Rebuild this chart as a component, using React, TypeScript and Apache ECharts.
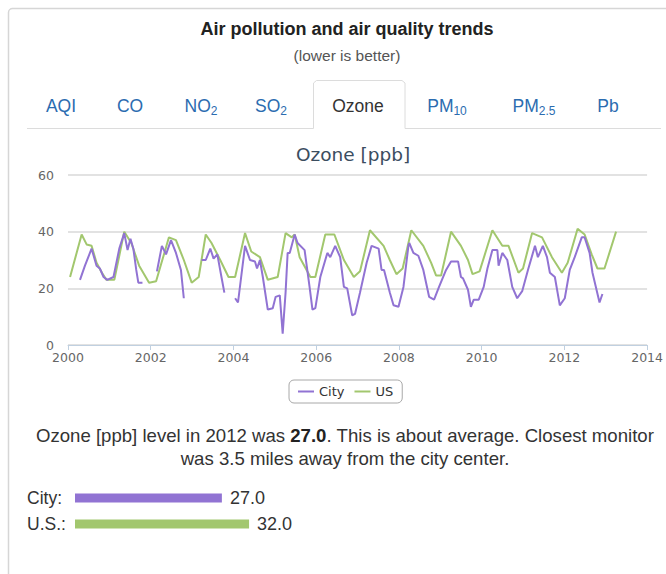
import React, { useEffect, useRef } from "react";
import * as echarts from "echarts";

// ---- Data ----
const cityYears = [
  2000.29, 2000.41, 2000.57, 2000.69, 2000.77, 2000.86, 2000.95, 2001.1, 2001.24, 2001.36, 2001.44, 2001.51, 2001.58, 2001.65, 2001.7, 2001.8, 2001.85,
  2002.15, 2002.27, 2002.37, 2002.49, 2002.61, 2002.73, 2002.8, 2002.85,
  2003.23, 2003.33, 2003.44, 2003.52, 2003.61, 2003.71, 2003.78, 2003.85,
  2004.04, 2004.11, 2004.28, 2004.4, 2004.52, 2004.57, 2004.64, 2004.71, 2004.83, 2004.95, 2005.02, 2005.12, 2005.19, 2005.26, 2005.31, 2005.36,
  2005.48, 2005.55, 2005.72, 2005.84, 2005.91, 2005.98, 2006.1, 2006.27, 2006.34, 2006.46, 2006.58, 2006.67, 2006.75, 2006.87, 2006.94,
  2007.06, 2007.22, 2007.34, 2007.51, 2007.58, 2007.64, 2007.78, 2007.87, 2007.99, 2008.11, 2008.23, 2008.25, 2008.35, 2008.47, 2008.59,
  2008.73, 2008.85, 2008.97, 2009.14, 2009.26, 2009.43, 2009.5, 2009.55, 2009.67, 2009.74, 2009.81, 2009.93, 2010.05, 2010.14, 2010.26,
  2010.38, 2010.41, 2010.5, 2010.62, 2010.74, 2010.86, 2010.98, 2011.12, 2011.29, 2011.36, 2011.48, 2011.58, 2011.65, 2011.77, 2011.89,
  2012.01, 2012.13, 2012.25, 2012.42, 2012.49, 2012.61, 2012.68, 2012.85, 2012.92,
];
const cityValues = [
  23, 28, 34, 28, 27, 24, 23, 24, 34, 39.5, 33.5, 37.5, 34, 26.5, 22, 22, null,
  26, 35, 32, 37, 32.5, 26.5, 16.5, null,
  30, 30, 34, 30.5, 32, 24, 18.5, null,
  16.5, 15, 35, 30, 29.5, 27, 30, 24, 12.5, 13, 17, 17.5, 4, 18.5, 32.5, 32.5,
  39, 36, 33.5, 20.5, 12.5, 13, 24, 32.5, 31, 35, 31, 20.5, 20, 10.5, 11,
  18.5, 29, 35, 34, 26.5, 26.5, 18.5, 14, 13.5, 20.5, 35, 36, 32.5, 31.5, 26.5,
  17, 16, 20.5, 26.5, 29.5, 29.5, 24, 23.5, 19.5, 13.5, 16, 16, 20.5, 27, 33.5,
  33.5, 28, 32.5, 30, 20.5, 16.5, 19, 26.5, 35, 31, 35, 31, 25.5, 24, 14,
  16.5, 26.5, 31, 38, 38, 32.5, 25.5, 15, 18,
];
const usYears = [
  2000.05, 2000.33, 2000.45, 2000.57, 2000.69, 2000.84, 2000.93, 2001.12, 2001.36, 2001.53, 2001.72, 2001.96, 2002.13, 2002.44, 2002.61,
  2002.8, 2002.99, 2003.16, 2003.33, 2003.47, 2003.68, 2003.88, 2004.04, 2004.28, 2004.43, 2004.64, 2004.83, 2005.07, 2005.26, 2005.41,
  2005.48, 2005.6, 2005.86, 2005.98, 2006.22, 2006.44, 2006.67, 2006.91, 2007.06, 2007.3, 2007.63, 2007.78, 2007.94, 2008.09, 2008.3,
  2008.59, 2008.78, 2008.9, 2009.02, 2009.26, 2009.5, 2009.67, 2009.78, 2009.95, 2010.26, 2010.5, 2010.65, 2010.89, 2011.0, 2011.22,
  2011.46, 2011.7, 2011.94, 2012.08, 2012.32, 2012.49, 2012.66, 2012.8, 2012.97, 2013.25,
];
const usValues = [
  24, 39, 35.5, 35, 29, 25, 23, 23, 40, 36, 28, 22, 22.5, 38, 37,
  30, 22, 24, 39, 36, 30, 24, 24, 39.5, 33, 31, 23, 24, 39.5, 38,
  39, 31, 24, 24, 39, 39, 30, 24, 26, 40.5, 35, 30, 25, 27, 40.5,
  35, 29, 24.5, 24.5, 40, 35, 30, 25, 26, 40.5, 35, 35, 25.5, 27, 39.5,
  38, 31, 25.5, 29, 41, 39, 32, 27, 27, 40,
];
const seriesNames = ["City", "US"];
const xAxisMin = 2000;
const xAxisMax = 2014;
const xAxisStep = 2;
const yAxisMin = 0;
const yAxisMax = 60;
const yAxisStep = 20;

const summaryLabels = ["City:", "U.S.:"];
const summaryValues = [27.0, 32.0];

const tabNames = ["AQI", "CO", "NO", "SO", "Ozone", "PM", "PM", "Pb"];
const tabSubs = ["", "", "2", "2", "", "10", "2.5", ""];
const activeTab = "Ozone";

const pageTitle = "Air pollution and air quality trends";
const pageSubtitle = "(lower is better)";
const chartTitle = "Ozone [ppb]";
const descLine1 = "Ozone [ppb] level in 2012 was {b|27.0}. This is about average. Closest monitor";
const descLine2 = "was 3.5 miles away from the city center.";

// ---- Layout / style ----
const tabCenters = [61, 130, 201, 271, 358, 447, 534, 608];
const CITY = "#9173d3";
const US = "#a2c76e";
const HTML_FONT = '"Liberation Sans", Arial, Helvetica, sans-serif';
const CHART_FONT = '"DejaVu Sans", "Lucida Grande", sans-serif';

export default function App() {
  const ref = useRef<HTMLDivElement>(null);

  useEffect(() => {
    if (!ref.current) return;
    const chart = echarts.init(ref.current, undefined, { renderer: "svg" });

    const cityData = cityYears.map((x, i) => [x, cityValues[i] === null ? "-" : cityValues[i]]);
    const usData = usYears.map((x, i) => [x, usValues[i]]);

    const tabElements = tabNames.map((name, i) => {
      const isActive = name === activeTab;
      const color = isActive ? "#333333" : "#2b6cb0";
      const sub = tabSubs[i];
      return {
        type: "text",
        x: tabCenters[i],
        y: 106,
        style: {
          text: sub ? `${name}{s|${sub}}` : name,
          fill: color,
          fontSize: 17.5,
          fontFamily: HTML_FONT,
          align: "center",
          verticalAlign: "middle",
          textAlign: "center",
          textVerticalAlign: "middle",
          rich: {
            s: { fontSize: 12, fontFamily: HTML_FONT, fill: color, padding: [10, 0, 0, 0] },
          },
        },
      };
    });

    const option: any = {
      animation: false,
      backgroundColor: "#ffffff",
      title: {
        text: chartTitle,
        left: 348,
        top: 140,
        textAlign: "center",
        textStyle: { fontFamily: CHART_FONT, fontSize: 18.5, fontWeight: "normal", color: "#3b4d5f" },
      },
      legend: {
        data: seriesNames,
        left: 289,
        top: 380,
        orient: "horizontal",
        icon: "rect",
        itemWidth: 16,
        itemHeight: 2,
        itemGap: 10,
        padding: [5, 9, 5, 9],
        borderColor: "#a8a8a8",
        borderWidth: 1,
        borderRadius: 5,
        textStyle: { fontFamily: CHART_FONT, fontSize: 13, color: "#333" },
      },
      grid: [
        { left: 68, right: 13, top: 175, bottom: 229 },
        { left: 75, width: 544, top: 485, height: 52 },
      ],
      xAxis: [
        {
          type: "value",
          gridIndex: 0,
          min: xAxisMin,
          max: xAxisMax,
          interval: xAxisStep,
          axisLine: { show: true, lineStyle: { color: "#c0d0e0", width: 1 } },
          axisTick: { show: true, length: 5, lineStyle: { color: "#c0d0e0" } },
          splitLine: { show: false },
          axisLabel: {
            color: "#666",
            fontSize: 12.5,
            fontFamily: CHART_FONT,
            margin: 6,
            formatter: (v: number) => String(v),
          },
        },
        { type: "value", gridIndex: 1, min: 0, max: 100, show: false },
      ],
      yAxis: [
        {
          type: "value",
          gridIndex: 0,
          min: yAxisMin,
          max: yAxisMax,
          interval: yAxisStep,
          axisLine: { show: false },
          axisTick: { show: false },
          splitLine: { show: true, lineStyle: { color: "#d8d8d8", width: 1.5 } },
          axisLabel: { color: "#666", fontSize: 12.5, fontFamily: CHART_FONT, margin: 14 },
        },
        {
          type: "category",
          gridIndex: 1,
          data: summaryLabels,
          inverse: true,
          axisLine: { show: false },
          axisTick: { show: false },
          splitLine: { show: false },
          axisLabel: { align: "left", margin: 48, fontSize: 17.5, fontFamily: HTML_FONT, color: "#333" },
        },
      ],
      series: [
        {
          name: seriesNames[0],
          type: "line",
          xAxisIndex: 0,
          yAxisIndex: 0,
          data: cityData,
          showSymbol: false,
          connectNulls: false,
          z: 3,
          color: CITY,
          lineStyle: { color: CITY, width: 2 },
        },
        {
          name: seriesNames[1],
          type: "line",
          xAxisIndex: 0,
          yAxisIndex: 0,
          data: usData,
          showSymbol: false,
          z: 2,
          color: US,
          lineStyle: { color: US, width: 2 },
        },
        {
          name: "summary",
          type: "bar",
          xAxisIndex: 1,
          yAxisIndex: 1,
          barWidth: 9,
          data: summaryValues.map((v, i) => ({ value: v, itemStyle: { color: i === 0 ? CITY : US } })),
          label: {
            show: true,
            position: "right",
            distance: 8,
            fontSize: 18,
            fontFamily: HTML_FONT,
            color: "#333",
            formatter: (p: any) => Number(p.value).toFixed(1),
          },
        },
      ],
      graphic: [
        {
          type: "rect",
          shape: { x: 8.5, y: 8.5, width: 700, height: 620, r: 4 },
          style: { fill: "none", stroke: "#d6d6d6", lineWidth: 1.5 },
          silent: true,
        },
        {
          type: "text",
          x: 347,
          y: 29,
          style: {
            text: pageTitle,
            fill: "#222",
            fontSize: 18,
            fontWeight: "bold",
            fontFamily: HTML_FONT,
            align: "center",
            verticalAlign: "middle",
            textAlign: "center",
            textVerticalAlign: "middle",
          },
        },
        {
          type: "text",
          x: 347,
          y: 55,
          style: {
            text: pageSubtitle,
            fill: "#555",
            fontSize: 15.5,
            fontFamily: HTML_FONT,
            align: "center",
            verticalAlign: "middle",
            textAlign: "center",
            textVerticalAlign: "middle",
          },
        },
        {
          type: "polyline",
          shape: {
            points: [
              [27, 128.5], [313.5, 128.5], [313.5, 83], [316.5, 80.5], [402, 80.5], [405, 83], [405, 128.5], [661, 128.5],
            ],
          },
          style: { stroke: "#dcdcdc", lineWidth: 1, fill: "none" },
        },
        ...tabElements,
        {
          type: "text",
          x: 345,
          y: 447,
          style: {
            text: descLine1 + "\n" + descLine2,
            fill: "#333",
            fontSize: 18.6,
            fontFamily: HTML_FONT,
            lineHeight: 23.5,
            align: "center",
            verticalAlign: "middle",
            textAlign: "center",
            textVerticalAlign: "middle",
            rich: {
              b: { fontWeight: "bold", fontSize: 18.6, fontFamily: HTML_FONT, fill: "#222", lineHeight: 23.5 },
            },
          },
        },
      ],
    };

    chart.setOption(option);
    return () => chart.dispose();
  }, []);

  return (
    <div
      ref={ref}
      style={{ position: "absolute", left: 0, top: 0, width: 666, height: 574, background: "#fff" }}
    />
  );
}
